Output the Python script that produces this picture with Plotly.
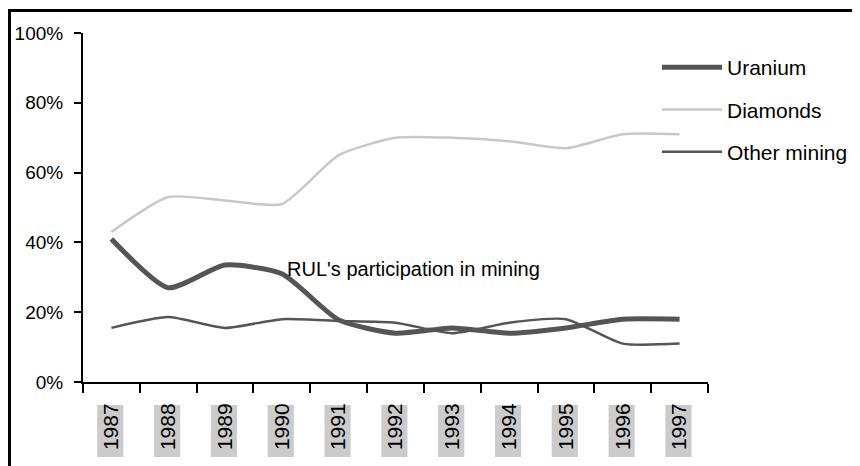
import plotly.graph_objects as go

years = ["1987", "1988", "1989", "1990", "1991", "1992", "1993", "1994", "1995", "1996", "1997"]
uranium = [0.41, 0.27, 0.335, 0.31, 0.178, 0.14, 0.155, 0.14, 0.155, 0.18, 0.18]
diamonds = [0.43, 0.53, 0.52, 0.51, 0.65, 0.70, 0.70, 0.69, 0.67, 0.71, 0.71]
other_mining = [0.155, 0.186, 0.155, 0.18, 0.175, 0.17, 0.14, 0.17, 0.18, 0.11, 0.11]
y_ticks = [0, 0.2, 0.4, 0.6, 0.8, 1.0]
y_tick_labels = ["0%", "20%", "40%", "60%", "80%", "100%"]
annotation_text = "RUL's participation in mining"

FONT = "Liberation Sans, Arial, sans-serif"

# plot area in figure pixels (page adds an 8px body margin)
L, T, R, B = 75, 25, 700, 374
W, H = 852, 458
PW, PH = R - L, B - T

fig = go.Figure()
fig.add_trace(go.Scatter(x=years, y=uranium, name="Uranium", mode="lines", legendgroup="u",
                         line=dict(color="#555555", width=5, shape="spline", smoothing=0.6)))
fig.add_trace(go.Scatter(x=years, y=diamonds, name="Diamonds", mode="lines", legendgroup="d",
                         line=dict(color="#c8c8c8", width=2.5, shape="spline", smoothing=0.6)))
fig.add_trace(go.Scatter(x=years, y=other_mining, name="Other mining", mode="lines", legendgroup="o",
                         line=dict(color="#555555", width=2.5, shape="spline", smoothing=0.6)))

# grey boxes behind the rotated year labels
for i, yr in enumerate(years):
    fig.add_shape(type="rect", xref="x", yref="paper",
                  x0=i - 0.25, x1=i + 0.21,
                  y0=(B - 449) / PH, y1=(B - 397) / PH,
                  fillcolor="#cbcbcb", line=dict(width=0), layer="below")

# outer frame
fig.add_shape(type="rect", xref="paper", yref="paper",
              x0=(1.5 - L) / PW, x1=(W + 20 - L) / PW,
              y0=(B - (H + 20)) / PH, y1=(B - 2.5) / PH,
              line=dict(color="black", width=3), fillcolor="rgba(0,0,0,0)")

fig.add_annotation(x=3.05, y=0.325, xref="x", yref="y", text=annotation_text,
                   showarrow=False, xanchor="left", yanchor="middle",
                   font=dict(family=FONT, size=20, color="black"))

fig.update_layout(
    width=W, height=H,
    margin=dict(l=L, r=W - R, t=T, b=H - B, autoexpand=False),
    paper_bgcolor="white", plot_bgcolor="white",
    font=dict(family=FONT, color="black"),
    showlegend=True,
    legend=dict(x=(649 - L) / PW, y=(B - 39) / PH, xanchor="left", yanchor="top",
                font=dict(family=FONT, size=21, color="black"),
                itemwidth=60, tracegroupgap=12, traceorder="grouped",
                bgcolor="rgba(0,0,0,0)"),
)
fig.update_xaxes(
    type="category", range=[-0.5, 10.5], showgrid=False, automargin=False,
    showline=True, linecolor="black", linewidth=2,
    ticks="outside", tickson="boundaries", ticklen=9, tickwidth=2, tickcolor="black",
    tickangle=-90, tickfont=dict(family=FONT, size=21, color="black"),
    ticklabelstandoff=11,
)
fig.update_yaxes(
    range=[0, 1], tickvals=y_ticks, ticktext=y_tick_labels, showgrid=False, automargin=False,
    showline=True, linecolor="black", linewidth=2, zeroline=False,
    ticks="outside", ticklen=7, tickwidth=2, tickcolor="black",
    tickfont=dict(family=FONT, size=19, color="black"),
    ticklabelstandoff=7,
)

fig.write_html("out.html")
